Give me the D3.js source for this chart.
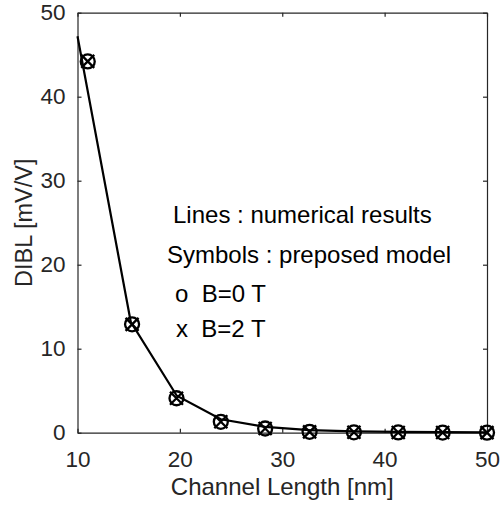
<!DOCTYPE html>
<html>
<head>
<meta charset="utf-8">
<script src="https://cdn.jsdelivr.net/npm/d3@7/dist/d3.min.js"></script>
<style>
  html, body { margin: 0; padding: 0; background: #fff; }
  text { font-family: "Liberation Sans", Arial, Helvetica, sans-serif; fill: #262626; }
</style>
</head>
<body>
<svg id="chart" width="500" height="507"></svg>
<script>
// ---- data ----
const xTicks = [10, 20, 30, 40, 50];
const yTicks = [0, 10, 20, 30, 40, 50];
const lineX = [10, 15.2, 19.7, 24, 28.33, 32.67, 37, 41.33, 45.67, 50];
const lineY = [47.2, 13.2, 4.4, 1.6, 0.7, 0.3, 0.15, 0.1, 0.08, 0.05];
const markX = [11, 15.33, 19.67, 24, 28.33, 32.67, 37, 41.33, 45.67, 50];
const b0Y = [44.2, 12.9, 4.1, 1.3, 0.5, 0.1, 0.05, 0.03, 0.02, 0.01];
const b2Y = [44.2, 12.9, 4.1, 1.3, 0.5, 0.1, 0.05, 0.03, 0.02, 0.01];
const legendLines = ["Lines : numerical results", "Symbols : preposed model", "o  B=0 T", "x  B=2 T"];

const L = 77.5, R = 487, T = 12.7, B = 432.7;
const svg = d3.select("#chart");
const x = d3.scaleLinear().domain([10, 50]).range([L, R]);
const y = d3.scaleLinear().domain([0, 50]).range([B, T]);
const axisColor = "#262626";

// axes
const gx = svg.append("g").attr("transform", `translate(0,${B})`)
  .call(d3.axisBottom(x).tickValues(xTicks).tickSizeInner(-4).tickSizeOuter(0).tickPadding(17));
const gxt = svg.append("g").attr("transform", `translate(0,${T})`)
  .call(d3.axisTop(x).tickValues(xTicks).tickSizeInner(-4).tickSizeOuter(0).tickFormat(""));
const gy = svg.append("g").attr("transform", `translate(${L},0)`)
  .call(d3.axisLeft(y).tickValues(yTicks).tickSizeInner(-4).tickSizeOuter(0).tickPadding(12));
const gyr = svg.append("g").attr("transform", `translate(${R},0)`)
  .call(d3.axisRight(y).tickValues(yTicks).tickSizeInner(-4).tickSizeOuter(0).tickFormat(""));
[gx, gxt, gy, gyr].forEach(g => {
  g.select(".domain").attr("stroke", axisColor).attr("stroke-width", 1.2);
  g.selectAll(".tick line").attr("stroke", axisColor).attr("stroke-width", 1.2);
  g.selectAll(".tick text").style("font-size", "22.5px").attr("fill", axisColor);
});
gx.selectAll(".tick text").attr("dy", "0.75em");

// axis labels
svg.append("text").attr("x", (L + R) / 2).attr("y", 495)
  .attr("text-anchor", "middle").style("font-size", "24px").text("Channel Length [nm]");
svg.append("text").attr("transform", `translate(31.5,${(T + B) / 2}) rotate(-90)`)
  .attr("text-anchor", "middle").style("font-size", "23.5px").text("DIBL [mV/V]");

// line
const lineData = lineX.map((v, i) => [v, lineY[i]]);
svg.append("path").datum(lineData)
  .attr("fill", "none").attr("stroke", "#000").attr("stroke-width", 2.2)
  .attr("d", d3.line().x(d => x(d[0])).y(d => y(d[1])));

// markers: circles (B=0 T)
const c = b0Y.map((v, i) => [markX[i], v]);
svg.append("g").selectAll("circle").data(c).join("circle")
  .attr("cx", d => x(d[0])).attr("cy", d => y(d[1])).attr("r", 7)
  .attr("fill", "none").attr("stroke", "#000").attr("stroke-width", 2.3);
// markers: x (B=2 T)
const xs = b2Y.map((v, i) => [markX[i], v]);
const s = 6.5;
svg.append("g").selectAll("path").data(xs).join("path")
  .attr("d", d => {
    const px = x(d[0]), py = y(d[1]);
    return `M${px - s},${py - s}L${px + s},${py + s}M${px - s},${py + s}L${px + s},${py - s}`;
  })
  .attr("fill", "none").attr("stroke", "#000").attr("stroke-width", 2.3);

// legend text
const legPos = [[173, 223.3], [167, 262.7], [175, 301.7], [176, 336.7]];
legendLines.forEach((t, i) => {
  svg.append("text").attr("x", legPos[i][0]).attr("y", legPos[i][1])
    .style("font-size", "24px").style("fill", "#000")
    .attr("xml:space", "preserve").style("white-space", "pre").text(t);
});
</script>
</body>
</html>
